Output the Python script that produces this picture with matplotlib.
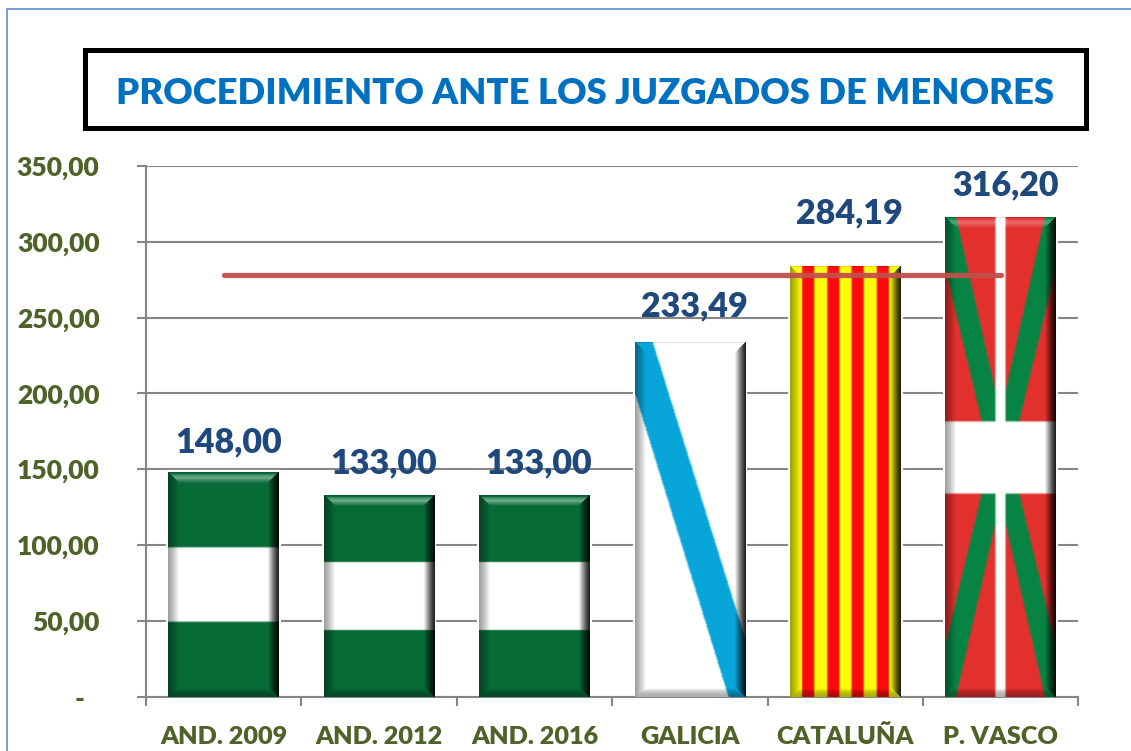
#coding:utf-8

# procedimiento ante los juzgados de menores - bars filled with flags

import numpy as np
import matplotlib
matplotlib.use("Agg")
import matplotlib.pyplot as plt
from matplotlib.patches import Rectangle
from matplotlib.lines import Line2D
from matplotlib.transforms import ScaledTranslation

plt.rcParams['font.family'] = ['Lato', 'DejaVu Sans']

categories = ["AND. 2009", "AND. 2012", "AND. 2016", "GALICIA", "CATALUÑA", "P. VASCO"]
values = [148.00, 133.00, 133.00, 233.49, 284.19, 316.20]
average = [278, 278, 278, 278, 278, 278]
value_labels = ["148,00", "133,00", "133,00", "233,49", "284,19", "316,20"]
y_ticks = [0, 50, 100, 150, 200, 250, 300, 350]
y_labels = ["-", "50,00", "100,00", "150,00", "200,00", "250,00", "300,00", "350,00"]

W, H = 1131, 751
GREEN = (0.03, 0.42, 0.22)
WHITE = (1.0, 1.0, 1.0)
BLUE = (0.03, 0.65, 0.85)
YELLOW = (1.0, 1.0, 0.05)
RED = (1.0, 0.03, 0.05)
EUS_RED = (0.89, 0.19, 0.18)
EUS_GREEN = (0.03, 0.52, 0.27)


def paint(mask, col, rgb):
    rgb[mask] = col


def flag_andalucia(u, t):
    rgb = np.zeros(u.shape + (3,))
    rgb[:] = GREEN
    paint((t > 1 / 3) & (t < 2 / 3), WHITE, rgb)
    return rgb


def flag_galicia(u, t):
    rgb = np.zeros(u.shape + (3,))
    rgb[:] = WHITE
    right = 0.16 + t * 0.84 / 0.842
    left = (t - 0.144) * 0.843 / 0.856
    paint((u < right) & (u > left), BLUE, rgb)
    return rgb


def flag_cataluna(u, t):
    rgb = np.zeros(u.shape + (3,))
    rgb[:] = YELLOW
    paint(np.floor(u * 9).astype(int) % 2 == 1, RED, rgb)
    return rgb


def flag_euskadi(u, t):
    rgb = np.zeros(u.shape + (3,))
    rgb[:] = EUS_RED
    dx = np.abs(u - 0.5)
    tt = np.minimum(t, 1 - t)  # the X is mirrored top/bottom
    outer = 0.5 + (tt - 0.105) * (0.169 - 0.5) / (0.425 - 0.105)
    inner = 0.40 + tt * (0.045 - 0.40) / 0.3625
    paint((dx < outer) & (dx > inner), EUS_GREEN, rgb)
    paint((t > 0.425) & (t < 0.577), WHITE, rgb)
    paint(dx < 0.045, WHITE, rgb)
    return rgb


flags = [flag_andalucia, flag_andalucia, flag_andalucia, flag_galicia, flag_cataluna, flag_euskadi]
top_light = [0.42, 0.42, 0.42, 0.0, 0.05, 0.28]
label_gap = [24, 25, 25, 28, 40, 25]


def soften(rgb):
    # small blur so the colour bands don't have hard edges
    pad = np.pad(rgb, ((1, 1), (1, 1), (0, 0)), mode="edge")
    return (pad[2:, 1:-1] + pad[:-2, 1:-1] + pad[1:-1, 2:] + pad[1:-1, :-2] + 2 * pad[1:-1, 1:-1]) / 6


def bevel(rgb, w, h, b=11.0):
    # picture frame shading, faces meet at mitred corners
    yy, xx = np.mgrid[0:h, 0:w]
    dl = xx + 0.5
    dr = w - xx - 0.5
    dt = yy + 0.5
    db = h - yy - 0.5
    d = np.minimum(np.minimum(dl, dr), np.minimum(dt, db))
    f = np.ones((h, w))
    light = np.zeros((h, w))
    s = np.clip(d / b, 0, 1)
    is_left = (dl == d)
    is_right = (dr == d)
    is_top = (dt == d) & ~is_left & ~is_right
    is_bot = (db == d) & ~is_left & ~is_right
    f[is_left] = 0.62 + 0.38 * s[is_left] ** 1.2
    f[is_right] = 0.12 + 0.88 * s[is_right] ** 1.3
    f[is_top] = np.where(s[is_top] < 0.1, 0.88, 1.0)
    light[is_top] = np.where((s[is_top] >= 0.15) & (s[is_top] < 1),
                             1 - np.abs(s[is_top] - 0.5) / 0.5, 0)
    f[is_bot] = 0.68 + 0.32 * np.clip(s[is_bot] / 0.8, 0, 1) ** 2
    rgb = rgb * f[..., None]
    return rgb, light


fig = plt.figure(figsize=(W / 100, H / 100), dpi=100, facecolor="white")
ax = fig.add_axes([146 / W, 1 - 696.7 / H, (1078.4 - 146) / W, (696.7 - 166) / H])

x = np.arange(len(categories))
ax.set_xlim(-0.5, 5.5)
ax.set_ylim(0, 350)

ax.yaxis.grid(True, color="#868686", lw=1.5, zorder=1)
ax.set_axisbelow(True)

bar_w = 0.711
bars = ax.bar(x, values, width=bar_w, color="white", edgecolor="white", lw=3, zorder=2)

for i, bar in enumerate(bars):
    x0, v = bar.get_x(), bar.get_height()
    p0 = ax.transData.transform((x0, 0))
    p1 = ax.transData.transform((x0 + bar_w, v))
    w_px = int(round(p1[0] - p0[0]))
    h_px = int(round(p1[1] - p0[1]))
    yy, xx = np.mgrid[0:h_px, 0:w_px]
    rgb = soften(flags[i]((xx + 0.5) / w_px, (yy + 0.5) / h_px))
    rgb, light = bevel(rgb, w_px, h_px)
    rgb = rgb + (1 - rgb) * (light * top_light[i])[..., None]
    ax.imshow(np.clip(rgb, 0, 1), extent=[x0, x0 + bar_w, 0, v], origin="upper",
              aspect="auto", interpolation="bilinear", zorder=3)
    ax.annotate(value_labels[i], (x[i], v), xytext=(3.2, label_gap[i]),
                textcoords="offset points", ha="center", va="center_baseline",
                fontsize=24.5, fontweight="heavy", color="#1F497D", zorder=6)

ax.plot(x, average, color="#C0504D", lw=3.8, alpha=0.95, solid_capstyle="round", zorder=5)

ax.set_xlim(-0.5, 5.5)
ax.set_ylim(0, 350)

for s in ["top", "right"]:
    ax.spines[s].set_visible(False)
for s in ["left", "bottom"]:
    ax.spines[s].set_color("#868686")
    ax.spines[s].set_linewidth(1.5)

ax.set_yticks(y_ticks)
ax.set_yticklabels(y_labels, fontsize=19, fontweight="heavy", color="#4F6228")
ax.set_xticks(np.arange(-0.5, 6, 1))
ax.set_xticklabels([])
ax.set_xticks(x, categories, minor=True, fontsize=18.2, fontweight="heavy", color="#4F6228")
ax.tick_params(axis="x", which="minor", length=0, pad=34)
ax.tick_params(axis="x", which="major", length=6.5, width=1.5, color="#868686")
ax.tick_params(axis="y", length=6.5, width=1.5, color="#868686", pad=27)
# same baseline for all, the tilde in CATALUÑA pushes it down otherwise
for lab in ax.get_xticklabels(minor=True):
    lab.set_verticalalignment("baseline")

# the zero label sits further in, like the accounting format of the original
zero = ax.get_yticklabels()[0]
zero.set_transform(zero.get_transform() + ScaledTranslation(-15 / 100, 0, fig.dpi_scale_trans))

# title box
fig.add_artist(Rectangle((84.5 / W, 1 - 128 / H), 1001 / W, 77.5 / H, transform=fig.transFigure,
                         facecolor="white", edgecolor="black", lw=3.6))
fig.text(585 / W, 1 - 90 / H, "PROCEDIMIENTO ANTE LOS JUZGADOS DE MENORES", ha="center",
         va="center_baseline", fontsize=26.2, fontweight="heavy", color="#0070C0")

# outer frame, only top and left end up on the picture
fig.add_artist(Line2D([7 / W, 7 / W, 1], [0, 1 - 8.5 / H, 1 - 8.5 / H], transform=fig.transFigure,
                      color="#5B8FD6", lw=1.2))

fig.savefig("out.png", dpi=100)
